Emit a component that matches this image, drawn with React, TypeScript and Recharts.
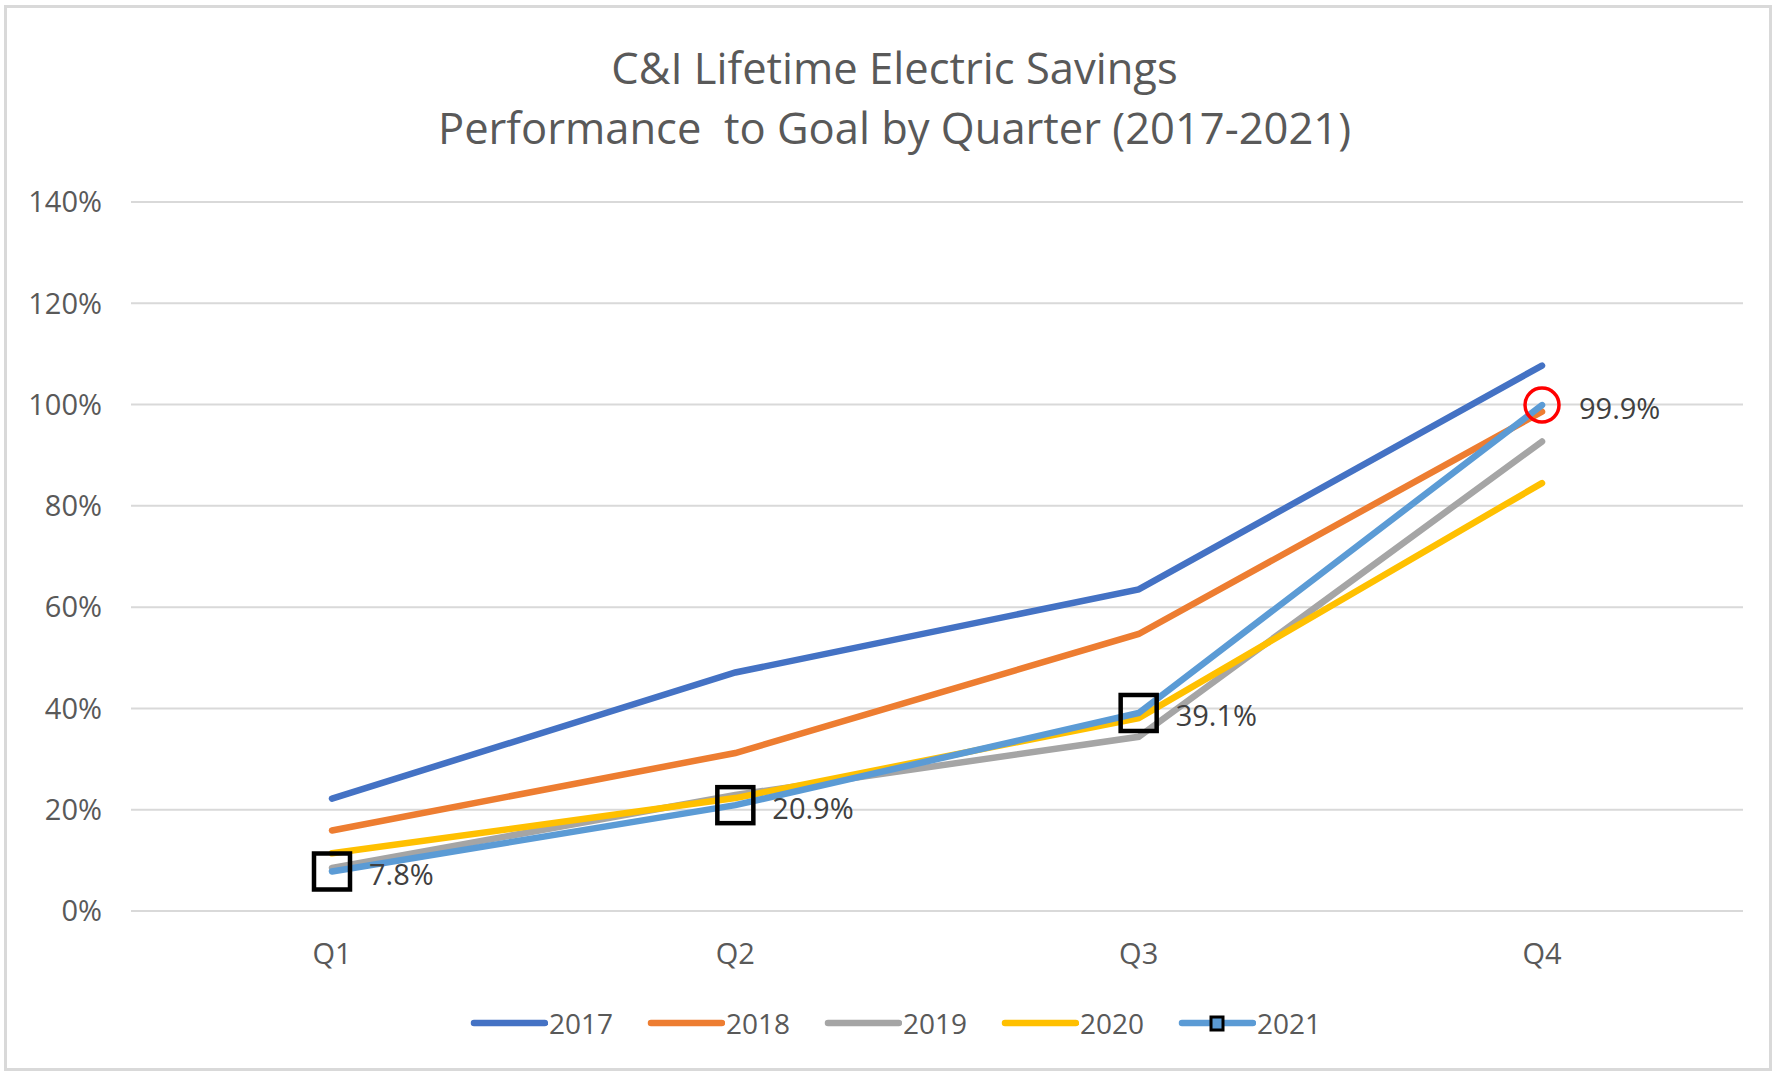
import React from "react";
import {
  CartesianGrid,
  Legend,
  LabelList,
  Line,
  LineChart,
  XAxis,
  YAxis,
} from "recharts";

const quarters = ["Q1", "Q2", "Q3", "Q4"];
const years = ["2017", "2018", "2019", "2020", "2021"];
const colors = ["#4472C4", "#ED7D31", "#A5A5A5", "#FFC000", "#5B9BD5"];

const y2017 = [22.2, 47.1, 63.5, 107.7];
const y2018 = [15.9, 31.2, 54.7, 98.6];
const y2019 = [8.5, 22.9, 34.4, 92.7];
const y2020 = [11.4, 22.3, 38.1, 84.5];
const y2021 = [7.8, 20.9, 39.1, 99.9];

const yTicks = [0, 20, 40, 60, 80, 100, 120, 140];

const series = [y2017, y2018, y2019, y2020, y2021];
const data = quarters.map((q, i) => {
  const row: Record<string, string | number> = { quarter: q };
  years.forEach((y, k) => (row[y] = series[k][i]));
  return row;
});

const FONT = "'Open Sans', 'Noto Sans', sans-serif";
const TEXT = "#595959";

function MarkerDot(props: any) {
  const { cx, cy, index } = props;
  if (cx == null || cy == null) return null;
  if (index === 3) {
    return (
      <circle cx={cx} cy={cy} r={17} fill="none" stroke="#FF0000" strokeWidth={3.5} />
    );
  }
  return (
    <rect
      x={cx - 18}
      y={cy - 18}
      width={36}
      height={36}
      fill="none"
      stroke="#000"
      strokeWidth={4.5}
    />
  );
}

function PointLabel(props: any) {
  const { x, y, value } = props;
  return (
    <text
      x={x + 37}
      y={y + 2}
      dominantBaseline="central"
      fontSize={29}
      fontFamily={FONT}
      fill="#404040"
    >
      {`${Number(value).toFixed(1)}%`}
    </text>
  );
}

function LegendRow() {
  return (
    <div
      style={{
        display: "flex",
        justifyContent: "center",
        fontFamily: FONT,
        fontSize: 28,
        color: TEXT,
        paddingLeft: 44,
      }}
    >
      {years.map((y, i) => (
        <div key={y} style={{ display: "flex", alignItems: "center", width: 177 }}>
          <svg width={78} height={20}>
            <line x1={4} y1={10} x2={75} y2={10} stroke={colors[i]} strokeWidth={6.5} strokeLinecap="round" />
            {i === 4 && (
              <rect x={33} y={4} width={12} height={13} fill={colors[i]} stroke="#000" strokeWidth={3} />
            )}
          </svg>
          <span style={{ marginLeft: 1 }}>{y}</span>
        </div>
      ))}
    </div>
  );
}

export default function App() {
  return (
    <div
      style={{
        position: "absolute",
        left: 0,
        top: 0,
        width: 1781,
        height: 1077,
        background: "#fff",
      }}
    >
      <div
        style={{
          position: "absolute",
          left: 4,
          top: 5,
          width: 1768,
          height: 1066,
          border: "3px solid #D9D9D9",
          boxSizing: "border-box",
        }}
      />
      <div
        style={{
          position: "absolute",
          top: 38,
          width: 1781,
          textAlign: "center",
          fontFamily: FONT,
          fontSize: 43.5,
          lineHeight: "60px",
          color: TEXT,
          left: 4,
        }}
      >
        <div>C&amp;I Lifetime Electric Savings</div>
        <div>Performance&nbsp; to Goal by Quarter (2017-2021)</div>
      </div>
      <LineChart
        width={1781}
        height={1077}
        data={data}
        margin={{ top: 202, right: 38, left: 0, bottom: 0 }}
        style={{ position: "absolute", left: 0, top: 0 }}
      >
        <CartesianGrid vertical={false} stroke="#D9D9D9" strokeWidth={2} />
        <XAxis
          dataKey="quarter"
          height={166}
          padding={{ left: 201, right: 201 }}
          axisLine={{ stroke: "#D9D9D9", strokeWidth: 2 }}
          tickLine={false}
          tickMargin={26}
          tick={{ fontSize: 29, fill: TEXT, fontFamily: FONT }}
        />
        <YAxis
          width={131}
          domain={[0, 140]}
          ticks={yTicks}
          tickFormatter={(v) => `${v}%`}
          axisLine={false}
          tickLine={false}
          tickMargin={23}
          tick={{ fontSize: 29, fill: TEXT, fontFamily: FONT }}
        />
        <Legend
          layout="horizontal"
          verticalAlign="middle"
          align="center"
          wrapperStyle={{ top: 1004, left: 0, width: 1781 }}
          content={() => <LegendRow />}
        />
        {years.map((y, i) => (
          <Line
            key={y}
            dataKey={y}
            stroke={colors[i]}
            strokeWidth={6.5}
            strokeLinecap="round"
            dot={i === 4 ? <MarkerDot /> : false}
            activeDot={false}
            isAnimationActive={false}
          >
            {i === 4 && <LabelList dataKey={y} content={<PointLabel />} />}
          </Line>
        ))}
      </LineChart>
    </div>
  );
}
